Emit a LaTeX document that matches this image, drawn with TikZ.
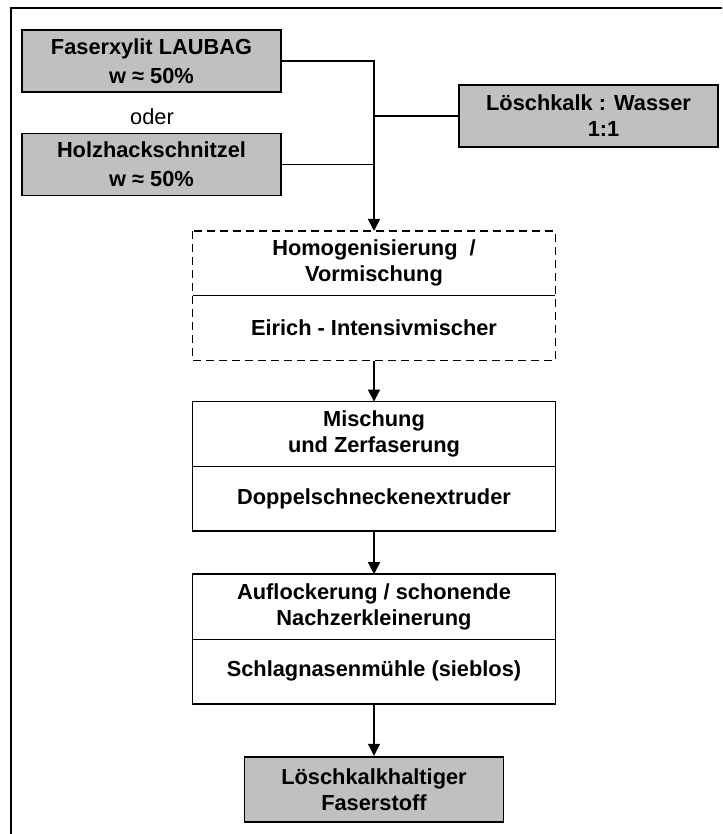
\documentclass[tikz,border=0pt]{standalone}
\usepackage{fontspec}
\setmainfont{Liberation Sans}
\usepackage{tikz}
\usepackage{xcolor}
\usetikzlibrary{positioning, arrows.meta}

\definecolor{boxgray}{HTML}{C0C0C0}

\tikzset{
    every node/.style={font=\fontsize{10.9}{13}\selectfont\bfseries, align=center},
    feed/.style={draw, line width=0.9pt, fill=boxgray, minimum width=129.5pt, minimum height=31pt, inner sep=0pt},
    part/.style={minimum width=181pt, minimum height=32pt, inner sep=0pt},
    link/.style={line width=0.65pt},
    flow/.style={line width=0.65pt, -{Triangle[width=6pt,length=6pt]}}
}

\begin{document}
\begin{tikzpicture}[x=1pt, y=1pt]
    \useasboundingbox (0,0) rectangle (361,-417);
    \draw[line width=1pt] (361,-4.25) -- (5.25,-4.25) -- (5.25,-417);

    \node[feed] (faser) at (75.75,-30.5) {Faserxylit LAUBAG\\[1.5pt]w ≈ 50\%};
    \node[font=\fontsize{10.9}{13}\selectfont] (oder) at (76,-58.5) {oder};
    \node[feed] (holz) at (75.75,-82.25) {Holzhackschnitzel\\[1.5pt]w ≈ 50\%};
    \node[feed] (kalk) at (294.25,-58) {L\"oschkalk : Wasser\\\hspace*{15pt}1:1};

    \node[part, anchor=north] (homogT) at (187,-115.5) {Homogenisierung\ \ /\\Vormischung};
    \node[part, below=0pt of homogT] (homogB) {Eirich - Intensivmischer};
    \draw[line width=0.8pt, dashed, dash pattern=on 4pt off 2.5pt] (homogT.north west) rectangle (homogB.south east);
    \draw[line width=0.5pt] (homogT.south west) -- (homogT.south east);

    \node[part, below=20.5pt of homogB] (mixT) {Mischung\\und Zerfaserung};
    \node[part, below=0pt of mixT] (mixB) {Doppelschneckenextruder};
    \draw[line width=0.8pt] (mixT.north west) rectangle (mixB.south east);
    \draw[line width=0.5pt] (mixT.south west) -- (mixT.south east);

    \node[part, below=21.5pt of mixB] (loosenT) {Auflockerung / schonende\\Nachzerkleinerung};
    \node[part, below=0pt of loosenT] (loosenB) {Schlagnasenm\"uhle (sieblos)};
    \draw[line width=0.8pt] (loosenT.north west) rectangle (loosenB.south east);
    \draw[line width=0.5pt] (loosenT.south west) -- (loosenT.south east);

    \node[feed, minimum height=32.5pt, below=26pt of loosenB] (product) {L\"oschkalkhaltiger\\Faserstoff};

    \draw[flow] (faser.east) -| (homogT.north);
    \draw[link] (holz.east) -- (holz.east -| homogT.north);
    \draw[link] (kalk.west) -- (kalk.west -| homogT.north);
    \draw[flow] (homogB.south) -- (mixT.north);
    \draw[flow] (mixB.south) -- (loosenT.north);
    \draw[flow] (loosenB.south) -- (product.north);
\end{tikzpicture}
\end{document}
